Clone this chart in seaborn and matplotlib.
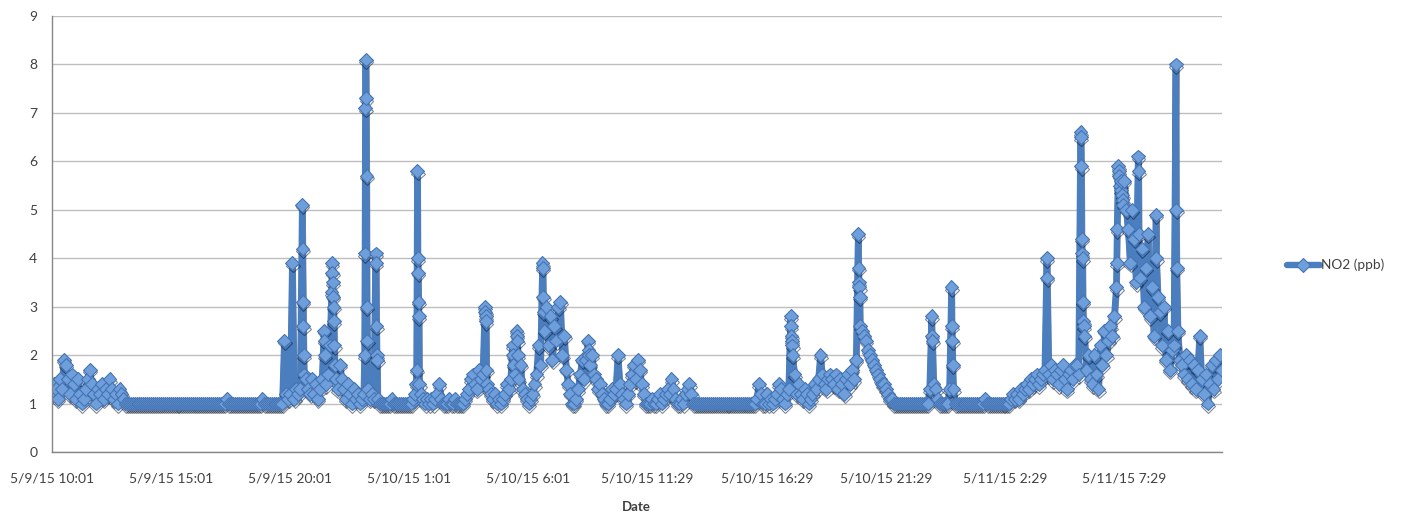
import numpy as np
import pandas as pd
import matplotlib
matplotlib.use("Agg")
import matplotlib.pyplot as plt
import matplotlib.patheffects as pe
from matplotlib.lines import Line2D
import seaborn as sns

# NO2 readings (ppb) every 5 minutes, one list per 5-hour axis interval
seg_0509_1001 = [1.2, 1.4, 1.3, 1.1, 1.5, 1.3, 1.9, 1.8, 1.5, 1.2,
                 1.6, 1.4, 1.1, 1.5, 1.2, 1.0, 1.1, 1.3, 1.5, 1.7,
                 1.4, 1.2, 1.0, 1.3, 1.2, 1.4, 1.1, 1.3, 1.2, 1.5,
                 1.3, 1.1, 1.2, 1.0, 1.3, 1.2, 1.1, 1.0, 1.0, 1.0,
                 1.0, 1.0, 1.0, 1.0, 1.0, 1.0, 1.0, 1.0, 1.0, 1.0,
                 1.0, 1.0, 1.0, 1.0, 1.0, 1.0, 1.0, 1.0, 1.0, 1.0]
seg_0509_1501 = [1.0, 1.0, 1.0, 1.0, 1.0, 1.0, 1.0, 1.0, 1.0, 1.0,
                 1.0, 1.0, 1.0, 1.0, 1.0, 1.0, 1.0, 1.0, 1.0, 1.0,
                 1.0, 1.0, 1.0, 1.0, 1.0, 1.0, 1.0, 1.0, 1.1, 1.0,
                 1.0, 1.0, 1.0, 1.0, 1.0, 1.0, 1.0, 1.0, 1.0, 1.0,
                 1.0, 1.0, 1.0, 1.0, 1.0, 1.0, 1.1, 1.0, 1.0, 1.0,
                 1.0, 1.0, 1.0, 1.0, 1.0, 1.0, 1.0, 2.3, 1.2, 1.1]
seg_0509_2001 = [1.2, 3.9, 1.1, 1.3, 1.2, 1.3, 5.1, 1.6, 1.5, 1.3,
                 1.2, 1.5, 1.2, 1.4, 1.1, 1.3, 1.5, 2.5, 1.4, 1.6,
                 2.2, 3.9, 2.7, 1.5, 1.3, 1.8, 1.5, 1.3, 1.1, 1.4,
                 1.2, 1.0, 1.3, 1.1, 1.2, 1.0, 1.1, 1.2, 8.1, 1.3,
                 1.1, 1.2, 1.1, 4.1, 1.1, 1.0, 1.0, 1.0, 1.0, 1.0,
                 1.0, 1.1, 1.0, 1.0, 1.0, 1.0, 1.0, 1.0, 1.0, 1.0]
seg_0510_0101 = [1.0, 1.0, 1.1, 1.2, 5.8, 1.4, 1.2, 1.1, 1.0, 1.1,
                 1.0, 1.1, 1.0, 1.1, 1.2, 1.4, 1.1, 1.0, 1.0, 1.0,
                 1.1, 1.0, 1.0, 1.1, 1.0, 1.0, 1.0, 1.0, 1.1, 1.2,
                 1.3, 1.5, 1.6, 1.4, 1.3, 1.7, 1.5, 1.6, 3.0, 1.4,
                 1.3, 1.2, 1.1, 1.2, 1.0, 1.1, 1.0, 1.1, 1.2, 1.4,
                 1.3, 1.5, 2.2, 1.6, 2.5, 1.5, 1.8, 1.3, 1.2, 1.1]
seg_0510_0601 = [1.0, 1.1, 1.2, 1.4, 1.6, 2.2, 1.8, 3.9, 2.5, 3.0,
                 2.2, 2.8, 1.9, 2.6, 2.3, 3.0, 3.1, 2.0, 2.4, 1.7,
                 1.4, 1.2, 1.0, 1.0, 1.1, 1.3, 1.6, 1.9, 1.5, 1.9,
                 2.3, 1.8, 2.0, 1.6, 1.5, 1.3, 1.4, 1.2, 1.1, 1.0,
                 1.0, 1.1, 1.3, 1.2, 1.3, 2.0, 1.4, 1.2, 1.1, 1.0,
                 1.2, 1.4, 1.6, 1.8, 1.5, 1.9, 1.7, 1.4, 1.2, 1.0]
seg_0510_1129 = [1.0, 1.0, 1.1, 1.0, 1.0, 1.1, 1.2, 1.0, 1.1, 1.2,
                 1.3, 1.2, 1.5, 1.3, 1.1, 1.0, 1.0, 1.1, 1.0, 1.2,
                 1.3, 1.4, 1.2, 1.0, 1.0, 1.0, 1.0, 1.0, 1.0, 1.0,
                 1.0, 1.0, 1.0, 1.0, 1.0, 1.0, 1.0, 1.0, 1.0, 1.0,
                 1.0, 1.0, 1.0, 1.0, 1.0, 1.0, 1.0, 1.0, 1.0, 1.0,
                 1.0, 1.0, 1.0, 1.0, 1.0, 1.1, 1.4, 1.2, 1.0, 1.0]
seg_0510_1629 = [1.2, 1.0, 1.1, 1.0, 1.1, 1.2, 1.4, 1.3, 1.1, 1.0,
                 1.2, 1.3, 2.8, 2.0, 1.6, 1.2, 1.4, 1.2, 1.1, 1.3,
                 1.2, 1.0, 1.1, 1.2, 1.4, 1.3, 1.5, 2.0, 1.6, 1.4,
                 1.3, 1.5, 1.6, 1.5, 1.4, 1.6, 1.3, 1.5, 1.4, 1.2,
                 1.5, 1.6, 1.4, 1.7, 1.5, 1.9, 4.5, 2.6, 2.5, 2.4,
                 2.3, 2.1, 2.0, 1.9, 1.8, 1.7, 1.6, 1.5, 1.4, 1.4]
seg_0510_2129 = [1.3, 1.2, 1.1, 1.1, 1.0, 1.0, 1.0, 1.0, 1.0, 1.0,
                 1.0, 1.0, 1.0, 1.0, 1.0, 1.0, 1.0, 1.0, 1.0, 1.0,
                 1.0, 1.0, 1.3, 2.8, 1.4, 1.3, 1.1, 1.0, 1.0, 1.0,
                 1.0, 1.0, 1.3, 3.4, 1.3, 1.0, 1.0, 1.0, 1.0, 1.0,
                 1.0, 1.0, 1.0, 1.0, 1.0, 1.0, 1.0, 1.0, 1.0, 1.0,
                 1.1, 1.0, 1.0, 1.0, 1.0, 1.0, 1.0, 1.0, 1.0, 1.0]
seg_0511_0229 = [1.0, 1.0, 1.0, 1.1, 1.2, 1.1, 1.2, 1.1, 1.3, 1.2,
                 1.3, 1.4, 1.3, 1.5, 1.4, 1.5, 1.6, 1.4, 1.5, 1.6,
                 1.7, 4.0, 1.6, 1.8, 1.5, 1.7, 1.6, 1.4, 1.7, 1.8,
                 1.5, 1.3, 1.6, 1.7, 1.5, 1.8, 1.8, 1.6, 6.6, 4.0,
                 2.4, 1.7, 2.0, 1.5, 1.4, 2.0, 1.6, 1.3, 2.2, 1.8,
                 2.5, 2.0, 2.3, 2.6, 2.4, 2.8, 3.4, 5.9, 5.5, 5.3]
seg_0511_0729 = [5.6, 5.0, 4.6, 3.9, 5.0, 4.4, 3.5, 6.1, 3.6, 4.2,
                 3.0, 3.8, 4.5, 2.8, 3.4, 2.4, 4.9, 3.2, 2.9, 2.2,
                 3.0, 1.9, 2.5, 1.7, 2.1, 2.2, 8.0, 2.5, 1.9, 1.8,
                 1.6, 2.0, 1.5, 1.9, 1.4, 1.8, 1.3, 1.7, 2.4, 1.5,
                 1.2, 1.6, 1.0, 1.4, 1.8, 1.3, 1.9, 1.5, 2.0, 1.7]

# One-minute readings logged between the 5-minute samples during peaks
peak_minute = [631, 632, 633, 634, 686, 687, 704, 706, 707, 708, 709, 711, 712,
               787, 788, 789, 791, 792, 793, 794, 816, 817, 818, 819,
               917, 918, 921, 922, 923, 924, 1091, 1092, 1093, 1094,
               1161, 1162, 1171, 1172, 1173, 1236, 1237, 1238, 1351, 1352,
               1861, 1862, 1863, 1864, 2031, 2032, 2033, 2034, 2216, 2217,
               2266, 2267, 2268, 2506, 2591, 2592, 2593, 2594, 2596, 2597, 2598,
               2681, 2682, 2686, 2687, 2691, 2692, 2696, 2697, 2736, 2737,
               2781, 2831, 2832]
peak_value = [4.2, 3.1, 2.6, 2.0, 2.3, 2.0, 3.3, 3.7, 3.5, 3.2, 3.0, 2.2, 1.8,
              2.0, 4.1, 7.1, 7.3, 5.7, 3.0, 2.3, 3.9, 2.6, 2.0, 1.9,
              1.4, 1.7, 4.0, 3.7, 3.1, 2.8, 2.9, 2.8, 2.7, 1.7,
              2.0, 1.8, 2.4, 2.3, 2.0, 3.8, 3.2, 2.9, 2.1, 2.0,
              2.6, 2.4, 2.3, 2.2, 3.8, 3.5, 3.4, 3.2, 2.4, 2.3,
              2.6, 2.3, 1.8, 3.6, 6.5, 5.9, 4.4, 4.1, 3.1, 2.7, 2.6,
              3.9, 4.6, 5.8, 5.7, 5.4, 5.6, 5.2, 5.1, 5.8, 4.5,
              4.0, 5.0, 3.8]

tick_labels = ["5/9/15 10:01", "5/9/15 15:01", "5/9/15 20:01",
               "5/10/15 1:01", "5/10/15 6:01", "5/10/15 11:29",
               "5/10/15 16:29", "5/10/15 21:29", "5/11/15 2:29",
               "5/11/15 7:29"]
series_name = "NO2 (ppb)"
sample_step = 5         # minutes between regular samples
minutes_per_tick = 300  # one axis label every 5 hours of samples

segments = [seg_0509_1001, seg_0509_1501, seg_0509_2001, seg_0510_0101,
            seg_0510_0601, seg_0510_1129, seg_0510_1629, seg_0510_2129,
            seg_0511_0229, seg_0511_0729]
regular = np.concatenate(segments)
regular_minute = np.arange(len(regular)) * sample_step

df = pd.DataFrame({
    "minute": np.concatenate([regular_minute, peak_minute]),
    series_name: np.concatenate([regular, peak_value]),
}).sort_values("minute").reset_index(drop=True)

sns.set_theme(style="white")
plt.rcParams["font.family"] = ["Lato", "DejaVu Sans"]

text_color = "#404040"
axis_color = "#868686"
line_color = "#4A7EBF"
marker_face = "#6E9FDB"
marker_edge = "#4474B4"
line_width = 4.6
marker_size = 7.0

fig = plt.figure(figsize=(14.03, 5.12), dpi=100)
ax = fig.add_axes([52 / 1403, 60 / 512, 1169.5 / 1403, 436 / 512])

sns.lineplot(data=df, x="minute", y=series_name, ax=ax, errorbar=None,
             estimator=None, sort=False,
             color=line_color, linewidth=line_width, marker="D",
             markersize=marker_size, markerfacecolor=marker_face,
             markeredgecolor=marker_edge, markeredgewidth=0.8, legend=False)

line = ax.lines[0]
line.set_path_effects([
    pe.SimpleLineShadow(offset=(0.3, -1.8), shadow_color="#0A1428", alpha=0.5),
    pe.Normal(),
])

ax.set_xlim(0, regular_minute[-1])
ax.set_ylim(0, 9)
ax.set_yticks(range(0, 10))
ax.set_xticks(np.arange(len(tick_labels)) * minutes_per_tick)
ax.set_xticklabels(tick_labels)

ax.yaxis.grid(True, color="#BEBEBE", linewidth=1.0)
ax.xaxis.grid(False)
ax.set_axisbelow(True)

for side in ("top", "right"):
    ax.spines[side].set_visible(False)
for side in ("left", "bottom"):
    ax.spines[side].set_color(axis_color)
    ax.spines[side].set_linewidth(1.0)

ax.tick_params(axis="both", which="major", direction="out", length=3.5,
               width=1.0, color=axis_color, labelcolor=text_color, labelsize=10)
ax.tick_params(axis="x", pad=11)
ax.tick_params(axis="y", pad=7)

ax.set_ylabel("")
ax.set_xlabel("Date", fontsize=9.5, fontweight="bold", color=text_color, labelpad=12)

handle = Line2D([], [], color=line_color, linewidth=line_width, marker="D",
                markersize=marker_size, markerfacecolor=marker_face,
                markeredgecolor=marker_edge, markeredgewidth=0.8)
fig.legend(handles=[handle], labels=[series_name], loc="center left",
           bbox_to_anchor=(1287 / 1403, 1 - 265 / 512), frameon=False,
           handlelength=2.4, handletextpad=0.1, borderpad=0, borderaxespad=0,
           prop={"size": 9.8}, labelcolor=text_color)

fig.savefig("out.png", dpi=100)
